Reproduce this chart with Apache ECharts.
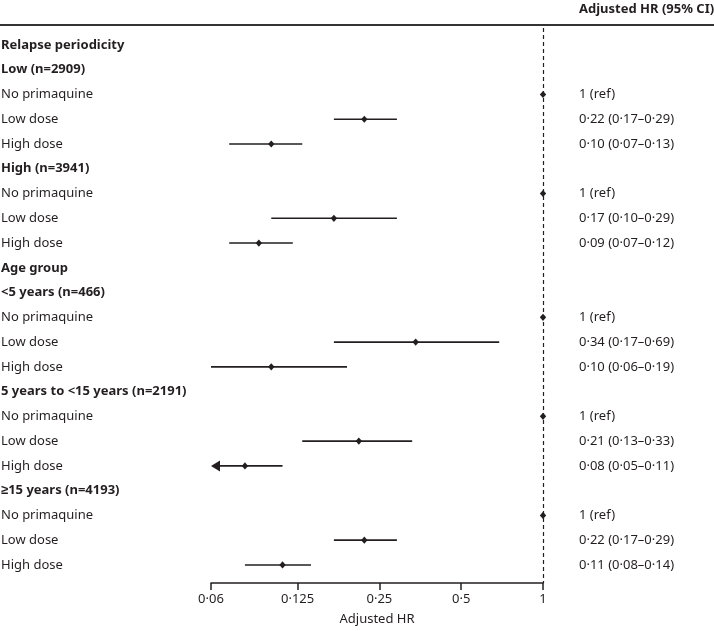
<!DOCTYPE html>
<html><head><meta charset="utf-8">
<script src="https://cdn.jsdelivr.net/npm/echarts@6/dist/echarts.min.js"></script>
<style>html,body{margin:0;padding:0;background:#fff}#c{width:714px;height:631px}</style>
</head><body><div id="c"></div>
<script>
var rowLabels = ["Relapse periodicity","Low (n=2909)","No primaquine","Low dose","High dose",
  "High (n=3941)","No primaquine","Low dose","High dose",
  "Age group","<5 years (n=466)","No primaquine","Low dose","High dose",
  "5 years to <15 years (n=2191)","No primaquine","Low dose","High dose",
  "≥15 years (n=4193)","No primaquine","Low dose","High dose"];
var rowBold = [1,1,0,0,0,1,0,0,0,1,1,0,0,0,1,0,0,0,1,0,0,0];
var estimate = [null,null,1,0.22,0.10,null,1,0.17,0.09,null,null,1,0.34,0.10,null,1,0.21,0.08,null,1,0.22,0.11];
var lower    = [null,null,null,0.17,0.07,null,null,0.10,0.07,null,null,null,0.17,0.06,null,null,0.13,0.05,null,null,0.17,0.08];
var upper    = [null,null,null,0.29,0.13,null,null,0.29,0.12,null,null,null,0.69,0.19,null,null,0.33,0.11,null,null,0.29,0.14];
var hrText = ["","","1 (ref)","0·22 (0·17–0·29)","0·10 (0·07–0·13)",
  "","1 (ref)","0·17 (0·10–0·29)","0·09 (0·07–0·12)",
  "","","1 (ref)","0·34 (0·17–0·69)","0·10 (0·06–0·19)",
  "","1 (ref)","0·21 (0·13–0·33)","0·08 (0·05–0·11)",
  "","1 (ref)","0·22 (0·17–0·29)","0·11 (0·08–0·14)"];
var tickValues = [0.06,0.125,0.25,0.5,1];
var tickLabels = ["0·06","0·125","0·25","0·5","1"];
var axisMin = 0.06, axisMax = 1;

var FONT = '"Noto Sans", sans-serif';
var INK = '#231f20';
var L2 = function(v){ return Math.log(v)/Math.LN2; };
var xMin = L2(axisMin), xMax = L2(axisMax);

var chart = echarts.init(document.getElementById('c'), null, {renderer:'canvas'});
var data = rowLabels.map(function(_, i){ return [0, i]; });

chart.setOption({
  animation: false,
  grid: {left: 211, right: 171, top: 28, bottom: 47, containLabel: false},
  xAxis: {
    type: 'value', min: xMin, max: xMax, position: 'bottom',
    splitLine: {show: false},
    axisLine: {show: true, onZero: false, lineStyle: {color: INK, width: 1.5}},
    axisTick: {show: true, length: 7, lineStyle: {color: INK, width: 1.5}, customValues: tickValues.map(L2)},
    axisLabel: {show: true, customValues: tickValues.map(L2), color: INK, fontFamily: FONT, fontSize: 13, margin: 10,
      formatter: function(v){
        for (var k = 0; k < tickValues.length; k++) if (Math.abs(L2(tickValues[k]) - v) < 1e-6) return tickLabels[k];
        return '';
      }},
    name: 'Adjusted HR', nameLocation: 'middle', nameGap: 30,
    nameTextStyle: {color: INK, fontFamily: FONT, fontSize: 13}
  },
  yAxis: {type: 'value', inverse: true, min: -0.685, max: 21.73, show: false},
  graphic: [
    {type: 'line', shape: {x1: 0, y1: 25, x2: 714, y2: 25}, style: {stroke: '#333', lineWidth: 2}},
    {type: 'text', x: 579, y: 9, style: {text: 'Adjusted HR (95% CI)', fill: INK, font: 'bold 13px ' + FONT, textVerticalAlign: 'middle'}}
  ],
  series: [{
    type: 'custom',
    clip: false,
    data: data,
    renderItem: function(params, api){
      var i = params.dataIndex;
      var y = api.coord([0, i])[1];
      var children = [];
      children.push({type: 'text', x: 1, y: y, style: {text: rowLabels[i], fill: INK,
        font: (rowBold[i] ? 'bold ' : '') + '13px ' + FONT, textVerticalAlign: 'middle'}});
      if (hrText[i]) children.push({type: 'text', x: 579, y: y, style: {text: hrText[i], fill: INK,
        font: '13px ' + FONT, textVerticalAlign: 'middle'}});
      if (estimate[i] != null) {
        if (lower[i] != null) {
          var clipped = lower[i] < axisMin;
          var xl = api.coord([Math.max(L2(lower[i]), xMin), i])[0];
          var xh = api.coord([Math.min(L2(upper[i]), xMax), i])[0];
          children.push({type: 'line', shape: {x1: clipped ? xl + 6 : xl, y1: y, x2: xh, y2: y},
            style: {stroke: INK, lineWidth: 1.6}});
          if (clipped) children.push({type: 'polygon', shape: {points: [[xl, y], [xl + 9, y - 5.5], [xl + 9, y + 5.5]]},
            style: {fill: INK}});
        }
        var xe = api.coord([L2(estimate[i]), i])[0];
        children.push({type: 'polygon', z2: 10, shape: {points: [[xe - 3.2, y], [xe, y - 3.6], [xe + 3.2, y], [xe, y + 3.6]]},
          style: {fill: INK}});
      }
      return {type: 'group', children: children};
    },
    markLine: {
      silent: true, symbol: 'none', label: {show: false},
      lineStyle: {color: INK, type: [4, 3], width: 1.2},
      data: [{xAxis: L2(1)}]
    }
  }]
});
</script></body></html>
